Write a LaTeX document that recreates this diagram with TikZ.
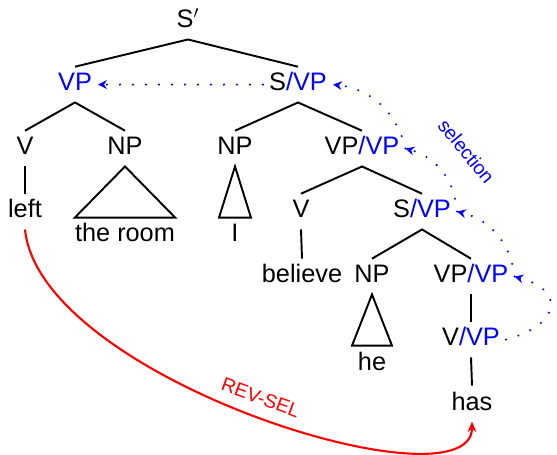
\documentclass[tikz,border=0pt]{standalone}
\usepackage{fontspec}
\setmainfont{Liberation Sans}
\usepackage{tikz}
\usetikzlibrary{arrows.meta,calc}

\begin{document}
\begin{tikzpicture}[
  x=0.02cm, y=0.02cm,
  font=\fontsize{14.4}{17}\selectfont,
  cat/.style={anchor=base, text height=10.3pt, text depth=3pt},
  branch/.style={line width=1.1pt},
  sel/.style={blue, line width=1.3pt, line cap=round, dash pattern=on 0pt off 7.4pt, -{Stealth[length=5pt,width=5pt]}},
  revsel/.style={red, line width=1.2pt, -{Stealth[length=6pt,width=5pt]}},
  lab/.style={font=\fontsize{11}{12}\selectfont},
]
\useasboundingbox (0,0) rectangle (557,-455);

% --- Top of the tree ---
\node[cat] (sbar) at (188,-28) {S$'$};
\node[cat, blue] (vp) at (75,-91) {VP};
\node[cat] (svp) at (298,-91) {S\textcolor{blue}{/VP}};

% --- Left: VP ---
\node[cat] (v1) at (25,-155) {V};
\node[cat] (np1) at (125,-155) {NP};
\node[cat] (left) at (25,-218) {left};
\node[cat, inner xsep=0pt] (room) at (125,-242) {the room};

% --- Right: S/VP ---
\node[cat] (np2) at (235,-155) {NP};
\node[cat] (vpvp1) at (362,-155) {VP\textcolor{blue}{/VP}};
\node[cat] (i) at (235,-242) {I};
\node[cat] (v2) at (301,-218) {V};
\node[cat] (svp2) at (422,-218) {S\textcolor{blue}{/VP}};
\node[cat] (believe) at (302,-283) {believe};
\node[cat] (np3) at (372,-283) {NP};
\node[cat] (vpvp2) at (471,-283) {VP\textcolor{blue}{/VP}};
\node[cat] (vvp) at (471,-346) {V\textcolor{blue}{/VP}};
\node[cat] (he) at (372,-370) {he};
\node[cat] (has) at (472,-410) {has};

% --- Branches ---
\draw[branch] (vp.north) -- (sbar.south) -- (svp.north);
\draw[branch] (v1.north) -- (vp.south) -- (np1.north);
\draw[branch] (np2.north) -- (svp.south) -- (vpvp1.north);
\draw[branch] (v1.south) -- (left.north);
\draw[branch] (np1.south) -- (room.north west) -- (room.north east) -- cycle;
\draw[branch] (np2.south) -- ($(i.north)+(-16,0)$) -- ($(i.north)+(16,0)$) -- cycle;
\draw[branch] (v2.north) -- (vpvp1.south) -- (svp2.north);
\draw[branch] (v2.south) -- (believe.north);
\draw[branch] (np3.north) -- (svp2.south) -- (vpvp2.north);
\draw[branch] (np3.south) -- ($(he.north)+(-20,0)$) -- ($(he.north)+(20,0)$) -- cycle;
\draw[branch] (vpvp2.south) -- (vvp.north);
\draw[branch] (vvp.south) -- (has.north);

% --- Selection chain ---
\draw[sel] (vvp.east) to[out=15, in=-15, looseness=2.2] (vpvp2.east);
\draw[sel] (vpvp2.east) to[bend right=35] (svp2.east);
\draw[sel] (svp2.east) to[bend right=35] node[lab, sloped, above=10pt] {selection} (vpvp1.east);
\draw[sel] (vpvp1.east) to[bend right=35] (svp.east);
\draw[sel] (svp.west) -- (vp.east);

% --- Reverse selection ---
\draw[revsel] (left.south) .. controls +(15,-150) and +(0,-90) .. node[lab, pos=0.5, sloped, above=3pt] {REV-SEL} (has.south);

\end{tikzpicture}
\end{document}
